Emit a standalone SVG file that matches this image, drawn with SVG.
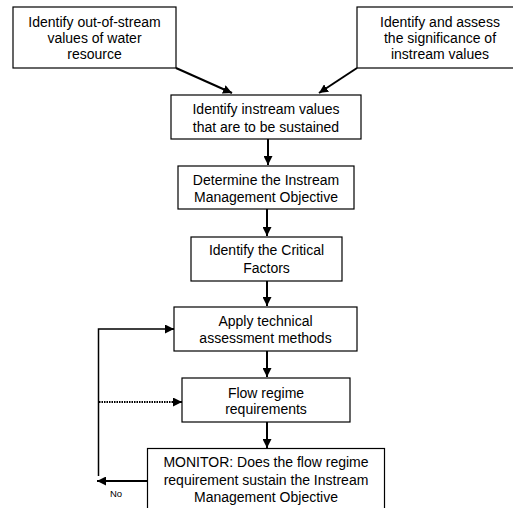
<svg xmlns="http://www.w3.org/2000/svg" width="513" height="508" viewBox="0 0 513 508">
<style>
.box{fill:#fff;stroke:#000;stroke-width:1.2}
.t{font-family:"Liberation Sans",Arial,sans-serif;font-size:14px;fill:#000;text-anchor:middle}
.c{fill:none;stroke:#000;stroke-width:2}
</style>
<defs>
<marker id="ah" viewBox="0 0 10 10" refX="10" refY="5" markerWidth="9" markerHeight="9" markerUnits="userSpaceOnUse" orient="auto">
<path d="M0,0 L10,5 L0,10 Z" fill="#000"/>
</marker>
</defs>
<rect width="513" height="508" fill="#fff"/>
<g id="connectors">
<line class="c" x1="176" y1="68" x2="232" y2="93" marker-end="url(#ah)"/>
<line class="c" x1="357" y1="68" x2="319" y2="93" marker-end="url(#ah)"/>
<line class="c" x1="268" y1="139" x2="268" y2="165" marker-end="url(#ah)"/>
<line class="c" x1="267" y1="209" x2="267" y2="236" marker-end="url(#ah)"/>
<line class="c" x1="267" y1="281" x2="267" y2="306" marker-end="url(#ah)"/>
<line class="c" x1="267" y1="351" x2="267" y2="377" marker-end="url(#ah)"/>
<line class="c" x1="267" y1="422" x2="267" y2="448" marker-end="url(#ah)"/>
<line class="c" x1="147" y1="481" x2="97" y2="481" marker-end="url(#ah)"/>
<polyline fill="none" stroke="#000" stroke-width="1.5" points="98.5,476 98.5,329 165,329"/>
<line class="c" x1="165" y1="329" x2="174" y2="329" marker-end="url(#ah)"/>
<line x1="99" y1="402" x2="174" y2="402" stroke="#000" stroke-width="2" stroke-dasharray="1.5 1"/>
<line class="c" x1="173" y1="402" x2="182" y2="402" marker-end="url(#ah)"/>
<text class="t" x="116" y="497" style="font-size:9.5px">No</text>
</g>
<g id="n1">
<rect class="box" x="13" y="7" width="163" height="61"/>
<text class="t" x="94.5" y="26.5">Identify out-of-stream</text>
<text class="t" x="94.5" y="42.5">values of water</text>
<text class="t" x="94.5" y="59">resource</text>
</g>
<g id="n2">
<rect class="box" x="357" y="7" width="166" height="61"/>
<text class="t" x="440" y="26.5">Identify and assess</text>
<text class="t" x="440" y="42.5">the significance of</text>
<text class="t" x="440" y="59">instream values</text>
</g>
<g id="n3">
<rect class="box" x="171" y="95" width="190" height="44"/>
<text class="t" x="266" y="114">Identify instream values</text>
<text class="t" x="266" y="132">that are to be sustained</text>
</g>
<g id="n4">
<rect class="box" x="178" y="166" width="176" height="43"/>
<text class="t" x="266" y="185">Determine the Instream</text>
<text class="t" x="266" y="201.5">Management Objective</text>
</g>
<g id="n5">
<rect class="box" x="191" y="237" width="151" height="44"/>
<text class="t" x="266.5" y="255">Identify the Critical</text>
<text class="t" x="266.5" y="273">Factors</text>
</g>
<g id="n6">
<rect class="box" x="174" y="307" width="183" height="44"/>
<text class="t" x="265.5" y="326">Apply technical</text>
<text class="t" x="265.5" y="342.5">assessment methods</text>
</g>
<g id="n7">
<rect class="box" x="182" y="378" width="168" height="44"/>
<text class="t" x="266" y="397.5">Flow regime</text>
<text class="t" x="266" y="414">requirements</text>
</g>
<g id="n8">
<rect class="box" x="147.5" y="448.5" width="237" height="70"/>
<text class="t" x="266" y="467">MONITOR: Does the flow regime</text>
<text class="t" x="266" y="485">requirement sustain the Instream</text>
<text class="t" x="266" y="501.5">Management Objective</text>
</g>
</svg>
